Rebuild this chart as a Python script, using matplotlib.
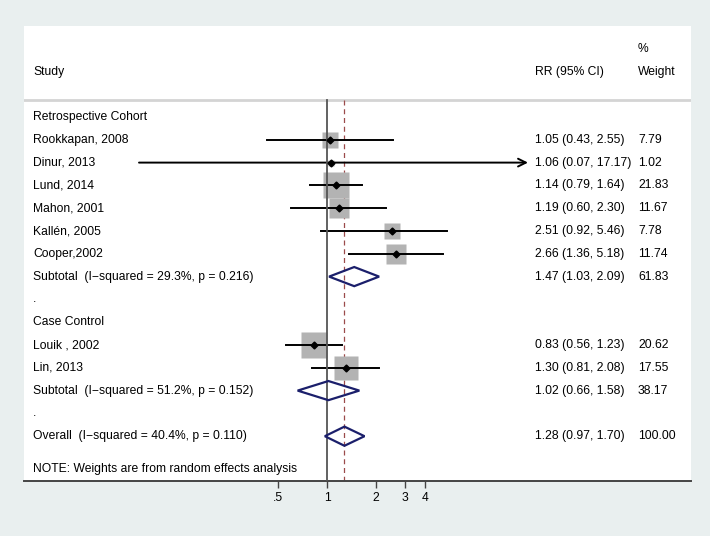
import numpy as np
import matplotlib.pyplot as plt
from matplotlib.ticker import FixedLocator, FixedFormatter

plt.rcParams['font.family'] = ['Liberation Sans', 'DejaVu Sans']

# retrospective cohort studies
cohort_names = ["Rookkapan, 2008", "Dinur, 2013", "Lund, 2014", "Mahon, 2001",
                "Kallén, 2005", "Cooper,2002"]
cohort_rr = [1.05, 1.06, 1.14, 1.19, 2.51, 2.66]
cohort_lo = [0.43, 0.07, 0.79, 0.60, 0.92, 1.36]
cohort_hi = [2.55, 17.17, 1.64, 2.30, 5.46, 5.18]
cohort_w = [7.79, 1.02, 21.83, 11.67, 7.78, 11.74]

# case control studies
cc_names = ["Louik , 2002", "Lin, 2013"]
cc_rr = [0.83, 1.30]
cc_lo = [0.56, 0.81]
cc_hi = [1.23, 2.08]
cc_w = [20.62, 17.55]

# pooled estimates: (label, rr, lo, hi, weight)
sub_labels = ["Subtotal  (I\u2212squared = 29.3%, p = 0.216)",
              "Subtotal  (I\u2212squared = 51.2%, p = 0.152)",
              "Overall  (I\u2212squared = 40.4%, p = 0.110)"]
sub_rr = [1.47, 1.02, 1.28]
sub_lo = [1.03, 0.66, 0.97]
sub_hi = [2.09, 1.58, 1.70]
sub_w = [61.83, 38.17, 100.00]

tick_vals = [0.5, 1, 2, 3, 4]
tick_labels = [".5", "1", "2", "3", "4"]

BG = '#e9efef'
FS = 8.7

fig = plt.figure(figsize=(7.1, 5.36), dpi=100, facecolor=BG)
W, H = 710, 536
left, right, top, bottom = 24, 691, 26, 481
ax = fig.add_axes([left / W, (H - bottom) / H, (right - left) / W, (bottom - top) / H])
ax.set_facecolor('white')

# x: log scale, 49 px per doubling, x=1 at pixel 327
ppd = 49.0
x0 = 327
ax.set_xscale('log')
ax.set_xlim(2 ** ((left - x0) / ppd), 2 ** ((right - x0) / ppd))

# y: row units, row 0 at pixel 117, 22.8 px per row
row0, rowh = 117, 22.8
ax.set_ylim((bottom - row0) / rowh, (top - row0) / rowh)

tr = ax.get_yaxis_transform()
col_study, col_rr, col_w = 0.0135, 0.766, 0.9205


def fmt(rr, lo, hi):
    return f"{rr:.2f} ({lo:.2f}, {hi:.2f})"


def study_row(y, name, rr, lo, hi, w):
    side = 4.1 * np.sqrt(w)
    ax.plot([rr], [y], marker='s', ms=side, color='#b3b3b3', mec='none', zorder=2)
    if hi > 16:
        ax.annotate('', xy=(hi, y), xytext=(lo, y),
                    arrowprops=dict(arrowstyle='->', lw=1.4, color='black',
                                    shrinkA=0, shrinkB=0, mutation_scale=14),
                    zorder=3)
    else:
        ax.plot([lo, hi], [y, y], color='black', lw=1.4, zorder=3)
    ax.plot([rr], [y], marker='D', ms=3.5, color='black', zorder=4)
    ax.text(col_study, y, name, transform=tr, fontsize=FS, va='center')
    ax.text(col_rr, y, fmt(rr, lo, hi), transform=tr, fontsize=FS, va='center')
    ax.text(col_w, y, f"{w:.2f}", transform=tr, fontsize=FS, va='center')


def pooled_row(y, label, rr, lo, hi, w):
    hh = 0.42
    ax.fill([lo, rr, hi, rr, lo], [y, y - hh, y, y + hh, y], facecolor='none',
            edgecolor='#1b1f6b', lw=1.6, zorder=4)
    ax.text(col_study, y, label, transform=tr, fontsize=FS, va='center')
    ax.text(col_rr, y, fmt(rr, lo, hi), transform=tr, fontsize=FS, va='center')
    ax.text(col_w, y, f"{w:.2f}", transform=tr, fontsize=FS, va='center')


# headers
ax.text(col_study, -1.97, "Study", transform=tr, fontsize=FS, va='center')
ax.text(col_rr, -1.97, "RR (95% CI)", transform=tr, fontsize=FS, va='center')
ax.text(col_w, -1.97, "Weight", transform=tr, fontsize=FS, va='center')
ax.text(col_w, -2.98, "%", transform=tr, fontsize=FS, va='center')
ax.axhline(-0.75, color='#d4d4d4', lw=2, zorder=1)

ax.text(col_study, 0, "Retrospective Cohort", transform=tr, fontsize=FS, va='center')
for i in range(len(cohort_names)):
    study_row(1 + i, cohort_names[i], cohort_rr[i], cohort_lo[i], cohort_hi[i], cohort_w[i])
pooled_row(7, sub_labels[0], sub_rr[0], sub_lo[0], sub_hi[0], sub_w[0])
ax.text(col_study, 8, ".", transform=tr, fontsize=FS, va='center')

ax.text(col_study, 9, "Case Control", transform=tr, fontsize=FS, va='center')
for i in range(len(cc_names)):
    study_row(10 + i, cc_names[i], cc_rr[i], cc_lo[i], cc_hi[i], cc_w[i])
pooled_row(12, sub_labels[1], sub_rr[1], sub_lo[1], sub_hi[1], sub_w[1])
ax.text(col_study, 13, ".", transform=tr, fontsize=FS, va='center')

pooled_row(14, sub_labels[2], sub_rr[2], sub_lo[2], sub_hi[2], sub_w[2])
ax.text(col_study, 15.44, "NOTE: Weights are from random effects analysis",
        transform=tr, fontsize=FS, va='center')

# null line and overall estimate line
ybot = ax.get_ylim()[0]
ax.plot([1, 1], [-0.75, ybot], color='#555555', lw=1.3, zorder=3)
ax.plot([sub_rr[2], sub_rr[2]], [-0.75, ybot], color='#9b4a4a', lw=0.9,
        ls=(0, (4, 3)), zorder=1)

for s in ['top', 'left', 'right']:
    ax.spines[s].set_visible(False)
ax.spines['bottom'].set_color('#444444')
ax.spines['bottom'].set_linewidth(1.4)
ax.set_yticks([])
ax.xaxis.set_major_locator(FixedLocator(tick_vals))
ax.xaxis.set_major_formatter(FixedFormatter(tick_labels))
ax.xaxis.set_minor_locator(FixedLocator([]))
ax.tick_params(axis='x', length=5, width=1, color='#444444', labelsize=FS, pad=3)

fig.savefig('out.png', dpi=100, facecolor=BG)
